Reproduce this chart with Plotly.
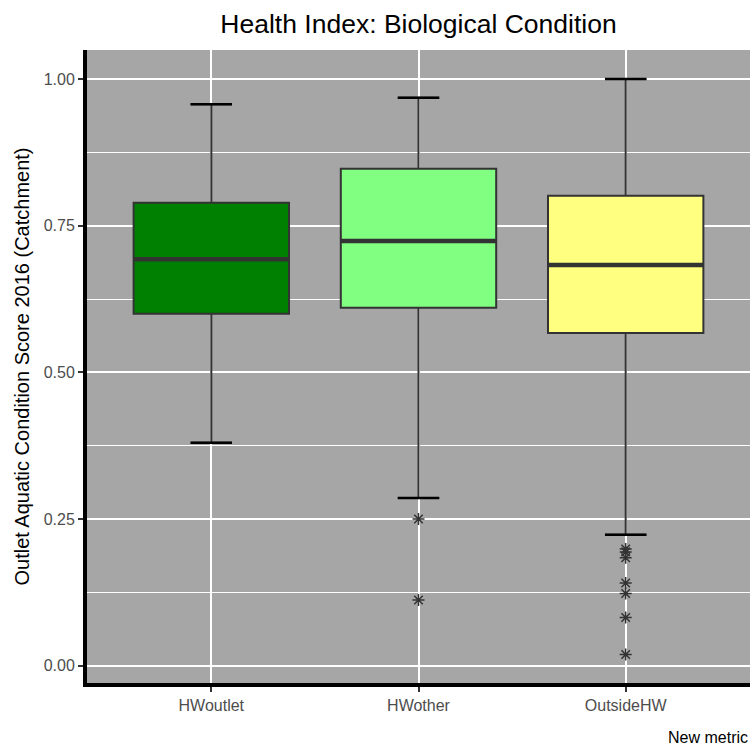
import plotly.graph_objects as go

# Summary statistics per group
groups = ["HWoutlet", "HWother", "OutsideHW"]
lower_whisker = [0.380, 0.286, 0.223]
q1 = [0.600, 0.610, 0.567]
median = [0.693, 0.724, 0.683]
q3 = [0.789, 0.847, 0.801]
upper_whisker = [0.957, 0.968, 1.000]
fill_colors = ["#008000", "#80FF80", "#FFFF80"]

# Points beyond the whiskers
outlier_group = [1, 1, 2, 2, 2, 2, 2, 2, 2]
outlier_value = [0.250, 0.112, 0.199, 0.194, 0.184, 0.141, 0.123, 0.082, 0.019]

y_ticks = [0.0, 0.25, 0.5, 0.75, 1.0]
box_width = 0.75
cap_width = 0.2

fig = go.Figure()

for i, g in enumerate(groups):
    fig.add_trace(go.Box(
        x=[i], q1=[q1[i]], median=[median[i]], q3=[q3[i]],
        lowerfence=[lower_whisker[i]], upperfence=[upper_whisker[i]],
        width=box_width, whiskerwidth=cap_width / box_width,
        fillcolor=fill_colors[i],
        line=dict(color="#333333", width=2),
        boxpoints=False, showlegend=False, hoverinfo="skip", name=g,
    ))
    # thicker median bar
    fig.add_trace(go.Scatter(
        x=[i - box_width / 2, i + box_width / 2], y=[median[i], median[i]],
        mode="lines", line=dict(color="#333333", width=4.5),
        showlegend=False, hoverinfo="skip",
    ))
    # black error-bar caps at the whisker ends
    for yv in (lower_whisker[i], upper_whisker[i]):
        fig.add_trace(go.Scatter(
            x=[i - cap_width / 2, i + cap_width / 2], y=[yv, yv],
            mode="lines", line=dict(color="black", width=2.5),
            showlegend=False, hoverinfo="skip",
        ))

fig.add_trace(go.Scatter(
    x=outlier_group, y=outlier_value, mode="markers",
    marker=dict(symbol="asterisk-open", size=10, color="#333333",
                line=dict(color="#333333", width=1.5)),
    showlegend=False, hoverinfo="skip",
))

font_family = "Liberation Sans, Arial, sans-serif"

fig.update_layout(
    width=754, height=751,
    margin=dict(l=87, r=4, t=50, b=68),
    paper_bgcolor="white",
    plot_bgcolor="#A6A6A6",
    font=dict(family=font_family, color="#4D4D4D", size=16),
    title=dict(text="Health Index: Biological Condition", xref="paper", x=0.5,
               xanchor="center", yref="container", y=0.969, yanchor="middle",
               font=dict(size=26.5, color="black", family=font_family)),
    xaxis=dict(
        range=[-0.6, 2.6], tickvals=list(range(len(groups))), ticktext=groups,
        showgrid=True, gridcolor="white", gridwidth=2, zeroline=False,
        showline=True, linecolor="black", linewidth=4,
        ticks="outside", ticklen=5, tickcolor="#333333", tickwidth=2,
        tickfont=dict(size=16, color="#4D4D4D"),
    ),
    yaxis=dict(
        range=[-0.0295, 1.0495], tickvals=y_ticks, tickformat=".2f",
        showgrid=True, gridcolor="white", gridwidth=2, zeroline=False,
        minor=dict(dtick=0.125, tick0=0.125, showgrid=True, gridcolor="white", gridwidth=1),
        showline=True, linecolor="black", linewidth=4,
        ticks="outside", ticklen=5, tickcolor="#333333", tickwidth=2,
        tickfont=dict(size=16, color="#4D4D4D"),
        title=dict(text="Outlet Aquatic Condition Score 2016 (Catchment)",
                   font=dict(size=20, color="black"), standoff=10),
    ),
    annotations=[dict(
        text="New metric", xref="paper", yref="paper", x=1.0, y=-0.086,
        xanchor="right", yanchor="middle", showarrow=False,
        font=dict(size=16, color="black"),
    )],
)

fig.write_html("out.html")
